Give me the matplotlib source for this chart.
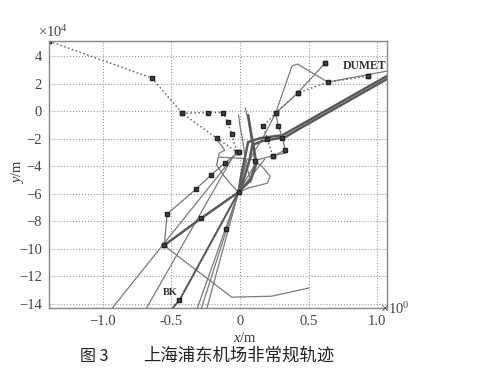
import matplotlib
matplotlib.use("Agg")
import matplotlib.pyplot as plt

plt.rcParams['font.family'] = ['Liberation Serif', 'Noto Sans CJK SC']
plt.rcParams['mathtext.fontset'] = 'custom'
plt.rcParams['mathtext.rm'] = 'Liberation Serif'
plt.rcParams['mathtext.it'] = 'Liberation Serif:italic'

# x in m (x10^0), y in m (x10^4)
# waypoint routes (dotted, with markers)
route1_x = [-1.39, -0.64, -0.42, -0.17, -0.02]
route1_y = [5.09, 2.40, -0.15, -1.96, -2.98]
route2_x = [-0.42, -0.23, -0.12, -0.09, -0.06, -0.02]
route2_y = [-0.15, -0.10, -0.10, -0.80, -1.67, -2.98]
dumet_x = [0.93, 0.64, 0.42, 0.26, 0.17, 0.20, 0.24]
dumet_y = [2.55, 2.11, 1.31, -0.15, -1.09, -2.04, -3.27]
route4_x = [0.62, 0.42, 0.26, 0.28, 0.31, 0.33, 0.24]
route4_y = [3.49, 1.31, -0.15, -1.09, -1.96, -2.84, -3.27]
route5_x = [-0.01, -0.11, -0.21, -0.32, -0.53, -0.55]
route5_y = [-2.98, -3.78, -4.65, -5.67, -7.49, -9.75]

# thin tracks
loop_x = [1.07, 0.64, 0.42, 0.38, 0.26, 0.17, 0.10, 0.05, 0.08]
loop_y = [2.91, 2.11, 3.42, 3.30, -0.15, -1.90, -3.00, -4.00, -5.20]
c1_x = [0.04, 0.06, 0.07, 0.09, 0.11, 0.07, -0.01]
c1_y = [0.22, -0.65, -1.24, -2.47, -3.71, -5.02, -5.89]
c2_x = [-0.01, 0.00, 0.02, 0.04, 0.00]
c2_y = [-0.29, -1.02, -2.11, -3.56, -5.89]
c3_x = [-0.17, -0.11, -0.15, -0.17, -0.12, -0.06, -0.01]
c3_y = [-2.04, -2.84, -3.05, -3.93, -4.65, -5.38, -5.89]
c4_x = [-0.15, -0.01, 0.12, 0.23, 0.33]
c4_y = [-3.35, -3.42, -3.56, -3.27, -3.05]
c5_x = [-0.01, 0.06, 0.20, 0.22, 0.16, 0.11]
c5_y = [-5.89, -5.60, -5.24, -4.73, -4.00, -3.71]
south_x = [-0.55, -0.51, -0.06, 0.23, 0.50]
south_y = [-9.75, -10.10, -13.53, -13.46, -12.87]
b1_x = [-0.02, -0.93]
b1_y = [-2.98, -14.33]
b2_x = [-0.05, -0.68]
b2_y = [-3.30, -14.33]
b4_x = [0.12, -0.01, -0.31]
b4_y = [-3.70, -5.89, -14.33]
b5_x = [0.05, -0.01, -0.28]
b5_y = [-3.60, -5.89, -14.33]
b6_x = [0.18, -0.01, -0.24]
b6_y = [-3.50, -5.89, -14.33]

# thick tracks
k1_x = [1.07, 0.44, 0.31, 0.15, 0.06, 0.04, 0.01, -0.01]
k1_y = [2.55, -1.02, -1.75, -1.96, -2.25, -3.20, -4.65, -5.89]
k2_x = [1.07, 0.44, 0.33, 0.16, 0.09, 0.07, 0.00]
k2_y = [2.33, -1.24, -1.89, -2.18, -2.47, -3.56, -5.89]
k3_x = [-0.01, -0.28, -0.55]
k3_y = [-5.89, -7.78, -9.75]
k4_x = [0.06, 0.08, 0.10, 0.12, 0.08, -0.01]
k4_y = [-0.30, -1.50, -2.60, -3.80, -5.00, -5.89]
bk_x = [-0.01, -0.44, -0.49]
bk_y = [-5.89, -13.75, -14.33]

# single markers
mark_x = [-0.10, 0.11, 0.93, 0.62]
mark_y = [-8.58, -3.60, 2.55, 3.49]

fig = plt.figure(figsize=(4.8, 3.74), dpi=100)
ax = fig.add_axes([0.102, 0.176, 0.704, 0.714])

thin = dict(color="#7a7a7a", lw=0.9)
thick = dict(color="#5a5a5a", lw=1.8)
mk = dict(marker="s", ms=3.2, mfc="#444444", mec="#222222")

for xs, ys in [(loop_x, loop_y), (c1_x, c1_y), (c2_x, c2_y), (c3_x, c3_y),
               (c4_x, c4_y), (c5_x, c5_y), (south_x, south_y), (b1_x, b1_y),
               (b2_x, b2_y), (b4_x, b4_y), (b5_x, b5_y), (b6_x, b6_y)]:
    ax.plot(xs, ys, **thin)

for xs, ys in [(k1_x, k1_y), (k2_x, k2_y), (k3_x, k3_y), (k4_x, k4_y)]:
    ax.plot(xs, ys, **thick)
ax.plot(bk_x, bk_y, color="#555555", lw=1.4)

for xs, ys in [(route1_x, route1_y), (route2_x, route2_y), (dumet_x, dumet_y)]:
    ax.plot(xs, ys, linestyle=":", color="#666666", lw=1.1, **mk)
ax.plot(route4_x, route4_y, linestyle="-", color="#777777", lw=0.9, **mk)
ax.plot(route5_x, route5_y, linestyle="-", color="#777777", lw=0.9, **mk)
ax.plot(k3_x, k3_y, linestyle="None", **mk)
ax.plot(bk_x[1:2], bk_y[1:2], linestyle="None", **mk)
ax.plot(mark_x, mark_y, linestyle="None", **mk)

ax.text(0.75, 3.27, "DUMET", fontsize=8.5, fontweight="bold", color="#333333", va="center")
ax.text(-0.56, -13.16, "BK", fontsize=7.5, fontweight="bold", color="#333333", va="center")

ax.set_xlim(-1.39, 1.07)
ax.set_ylim(-14.33, 5.09)
ax.set_xticks([-1.0, -0.5, 0, 0.5, 1.0])
ax.set_xticklabels(["\u22121.0", "-0.5", "0", "0.5", "1.0"])
ax.set_yticks([4, 2, 0, -2, -4, -6, -8, -10, -12, -14])
ax.set_yticklabels(["4", "2", "0", "\u22122", "\u22124", "\u22126", "\u22128",
                    "\u221210", "\u221212", "\u221214"])
ax.tick_params(length=0, labelsize=10.5, labelcolor="#444444", pad=5)
ax.grid(True, linestyle=":", color="#999999", lw=0.8)
for s in ax.spines.values():
    s.set_color("#888888")
    s.set_linewidth(1.0)

fig.text(38 / 480, 1 - 32 / 374, "\u00d710$^4$", fontsize=10.5, color="#444444", va="center")
fig.text(380 / 480, 1 - 309 / 374, "\u00d710$^0$", fontsize=10.5, color="#444444", va="center")
fig.text(245 / 480, 1 - 338 / 374, "$x$/m", fontsize=10.5, color="#333333", ha="center", va="center")
fig.text(17 / 480, 1 - 172 / 374, "$y$/m", fontsize=10.5, color="#333333", ha="center",
         va="center", rotation=90)

fig.text(80 / 480, 1 - 356 / 374, "图 3", fontsize=11.5, color="#222222", va="center",
         family=['Noto Sans CJK SC', 'DejaVu Sans'])
fig.text(143 / 480, 1 - 356 / 374, "上海浦东机场非常规轨迹", fontsize=12.5, color="#222222",
         va="center", family=['Noto Sans CJK SC', 'DejaVu Sans'])

fig.savefig("out.png", dpi=100)
